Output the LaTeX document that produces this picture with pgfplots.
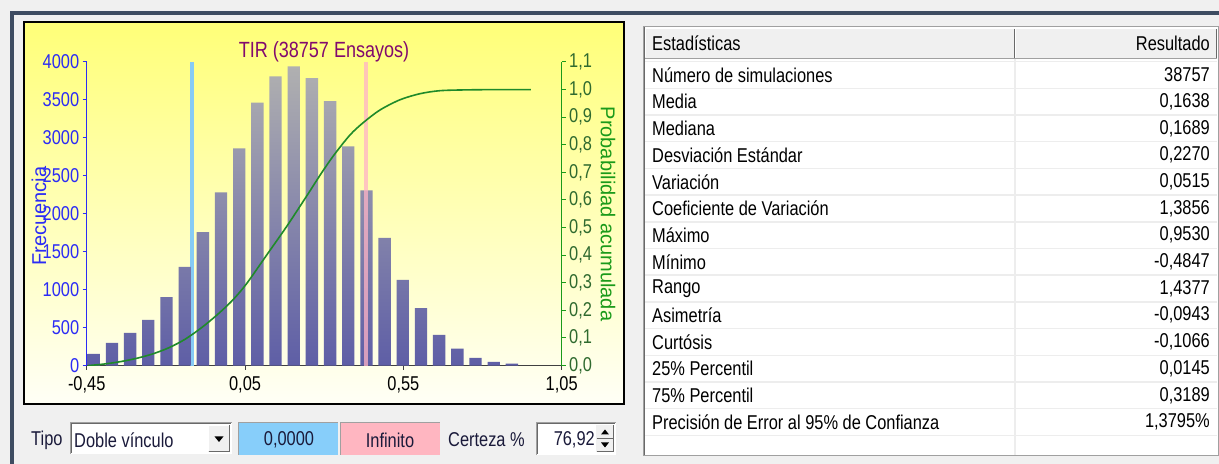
\documentclass[border=0pt]{standalone}
\usepackage{fontspec}
\setmainfont[FakeStretch=0.82]{Liberation Sans}
\newfontfamily\widefont{Liberation Sans}
\usepackage{pgfplots}
\pgfplotsset{compat=1.18}

\definecolor{slate}{HTML}{3E4C61}
\definecolor{winbg}{HTML}{F0F0F0}
\definecolor{ytop}{HTML}{FFFF78}
\definecolor{ybot}{HTML}{FFFFF6}
\definecolor{bartop}{HTML}{B0B0B0}
\definecolor{barbot}{HTML}{5E5EA6}
\definecolor{freqblue}{HTML}{2B2BF5}
\definecolor{probgreen}{HTML}{1A9A1A}
\definecolor{ticgreen}{HTML}{2F6A2F}
\definecolor{curvegreen}{HTML}{1F8A2A}
\definecolor{lowline}{HTML}{86CBF5}
\definecolor{highline}{HTML}{FFB3C6}
\definecolor{titlepurple}{HTML}{820A6E}
\definecolor{boxblue}{HTML}{87CEFA}
\definecolor{boxpink}{HTML}{FFB6C1}
\definecolor{sepgray}{HTML}{EDEDED}
\definecolor{edgegray}{HTML}{A0A0A0}
\definecolor{darkedge}{HTML}{696969}
\definecolor{uitext}{HTML}{1A1A3A}

\newcommand\fs{\fontsize{20bp}{24bp}\selectfont}

\begin{document}
\begin{tikzpicture}
\useasboundingbox (0,0) rectangle (1219bp,464bp);

% window background and chart frame (px coordinates, y down)
\begin{scope}[x=1bp,y=-1bp,shift={(0,464bp)}]
\fill[winbg] (0,0) rectangle (1219,464);
\fill[slate] (10,11) rectangle (1219,15);
\fill[slate] (10,11) rectangle (14,464);
\shade[top color=ytop, bottom color=ybot] (24,22) rectangle (624,404);
\draw[black, line width=1.5bp] (24,22) rectangle (624,404);
\end{scope}

% histogram, left axis
\begin{axis}[
    at={(86.7bp,98.4bp)}, anchor=south west,
    width=475bp, height=303.6bp, scale only axis,
    xmin=-0.45, xmax=1.05, ymin=0, ymax=4000,
    axis y line*=left, axis x line*=bottom,
    axis line style={-},
    x axis line style={black!75, line width=1bp},
    y axis line style={freqblue, line width=1bp},
    xtick={-0.45,0.05,0.55,1.05},
    ytick={0,500,1000,1500,2000,2500,3000,3500,4000},
    tick align=outside, major tick length=4bp,
    xtick style={black!75, line width=1bp},
    ytick style={freqblue, line width=1bp},
    every tick label/.append style={font=\fs},
    /pgf/number format/assume math mode=true,
    xticklabel style={yshift=-3bp, /pgf/number format/.cd, fixed, fixed zerofill, precision=2, use comma},
    yticklabel style={text=freqblue, /pgf/number format/1000 sep={}},
    clip=false,
]
\addplot[lowline, line width=4bp] coordinates {(-0.117,0) (-0.117,4000)};
\addplot[ybar, bar width=0.039, draw=none, top color=bartop, bottom color=barbot] coordinates {
(-0.4276,154) (-0.3702,299) (-0.3128,431) (-0.2554,602) (-0.1980,901) (-0.1406,1301)
(-0.0832,1758) (-0.0258,2281) (0.0316,2862) (0.0890,3464) (0.1464,3811) (0.2038,3943)
(0.2612,3789) (0.3186,3486) (0.3760,2888) (0.4334,2308) (0.4908,1684) (0.5482,1130)
(0.6056,756) (0.6630,404) (0.7204,224) (0.7778,101) (0.8352,48) (0.8926,26)};
\addplot[highline, line width=4bp, opacity=0.75] coordinates {(0.432,0) (0.432,4000)};
\end{axis}

% cumulative probability, right axis
\begin{axis}[
    at={(86.7bp,98.4bp)}, anchor=south west,
    width=475bp, height=303.6bp, scale only axis,
    xmin=-0.45, xmax=1.05, ymin=0, ymax=1.1,
    axis y line*=right, axis x line=none,
    axis line style={-},
    y axis line style={probgreen, line width=1bp},
    ytick={0,0.1,0.2,0.3,0.4,0.5,0.6,0.7,0.8,0.9,1.0,1.1},
    tick align=outside, major tick length=4bp,
    ytick style={probgreen, line width=1bp},
    every tick label/.append style={font=\fs},
    /pgf/number format/assume math mode=true,
    yticklabel style={text=ticgreen, /pgf/number format/.cd, fixed, fixed zerofill, precision=1, use comma},
]
\addplot[curvegreen, line width=1.6bp, smooth, tension=0.5] coordinates {
(-0.446,0.000) (-0.400,0.005) (-0.345,0.014) (-0.290,0.027) (-0.240,0.043) (-0.190,0.065)
(-0.140,0.095) (-0.090,0.135) (-0.040,0.182) (0.010,0.236) (0.055,0.297) (0.118,0.400)
(0.182,0.505) (0.245,0.615) (0.287,0.690) (0.329,0.760) (0.381,0.835) (0.423,0.880)
(0.476,0.926) (0.539,0.963) (0.602,0.985) (0.665,0.996) (0.750,0.999) (0.855,1.000)
(0.953,1.000)};
\end{axis}

\begin{scope}[x=1bp,y=-1bp,shift={(0,464bp)}]
% chart texts
\node[font=\fontsize{22bp}{26bp}\selectfont, text=titlepurple] at (324,52) {TIR (38757 Ensayos)};
\node[font=\widefont\fontsize{20bp}{24bp}\selectfont, text=freqblue, rotate=90] at (39,216) {Frecuencia};
\node[font=\widefont\fontsize{20bp}{24bp}\selectfont, text=probgreen, rotate=-90] at (608,214) {Probabilidad acumulada};

% controls under the chart
\node[anchor=west, font=\fs, text=uitext, inner sep=0] at (31,440) {Tipo};
\fill[white] (70,422) rectangle (232,454);
\draw[edgegray] (70.5,454)--(70.5,422.5)--(232,422.5);
\draw[darkedge] (71.5,453)--(71.5,423.5)--(231,423.5);
\fill[winbg] (208,425) rectangle (230,452);
\draw[white] (208.5,451.5)--(208.5,425.5)--(229.5,425.5);
\draw[darkedge] (208.5,451.5)--(229.5,451.5)--(229.5,425.5);
\fill[black] (214.5,436.5)--(223.5,436.5)--(219,442)--cycle;
\node[anchor=west, font=\fs, text=uitext, inner sep=0] at (74,440) {Doble vínculo};

\fill[boxblue] (238,422) rectangle (338,455);
\draw[edgegray] (238.5,455)--(238.5,422.5)--(338,422.5);
\node[font=\fs, text=uitext] at (289,440) {0,0000};
\fill[boxpink] (340,422) rectangle (440,455);
\draw[edgegray] (340.5,455)--(340.5,422.5)--(440,422.5);
\node[font=\fs, text=uitext] at (390,440) {Infinito};

\node[anchor=west, font=\fs, text=uitext, inner sep=0] at (448,440) {Certeza \%};
\fill[white] (536,422) rectangle (616,455);
\draw[edgegray] (536.5,455)--(536.5,422.5)--(616,422.5);
\draw[darkedge] (537.5,454)--(537.5,423.5)--(615,423.5);
\node[anchor=east, font=\fs, text=uitext, inner sep=0] at (595,440) {76,92};
\fill[winbg] (596,425) rectangle (614,452);
\draw[darkedge] (596.5,438.5)--(613.5,438.5);
\draw[darkedge] (596.5,451.5)--(613.5,451.5)--(613.5,425.5);
\fill[black] (601,434.5)--(609,434.5)--(605,429.5)--cycle;
\fill[black] (601,442.5)--(609,442.5)--(605,447.5)--cycle;

% statistics table
\fill[white] (643,26) rectangle (1219,456);
\draw[edgegray] (643.5,26.5) rectangle (1218.5,455.5);
\draw[darkedge] (644.5,27.5)--(644.5,455);
\fill[winbg] (645,28) rectangle (1217,58);
\draw[white] (645.5,57)--(645.5,28.5)--(1217,28.5);
\draw[edgegray] (645,58.5)--(1217,58.5);
\draw[darkedge] (1014.5,29)--(1014.5,58);
\draw[white] (1015.5,29)--(1015.5,58);
\draw[darkedge] (1216.5,29)--(1216.5,58);
\node[anchor=west, font=\fs, inner sep=0] at (652,43) {Estadísticas};
\node[anchor=east, font=\fs, inner sep=0] at (1210,43) {Resultado};
\foreach \i in {0,...,14} {
  \draw[sepgray, line width=1.5bp] (645,{61.6+26.7*\i}) -- (1217,{61.6+26.7*\i});
}
\draw[sepgray, line width=1.5bp] (1015,59) -- (1015,455);
\foreach \lab/\val [count=\i from 0] in {
  Número de simulaciones/38757,
  Media/{0,1638},
  Mediana/{0,1689},
  Desviación Estándar/{0,2270},
  Variación/{0,0515},
  Coeficiente de Variación/{1,3856},
  Máximo/{0,9530},
  Mínimo/{-0,4847},
  Rango/{1,4377},
  Asimetría/{-0,0943},
  Curtósis/{-0,1066},
  25\% Percentil/{0,0145},
  75\% Percentil/{0,3189},
  Precisión de Error al 95\% de Confianza/{1,3795\%}} {
  \node[anchor=west, font=\fs, inner sep=0] at (652,{75+26.7*\i}) {\lab};
  \node[anchor=east, font=\fs, inner sep=0] at (1210,{75+26.7*\i}) {\val};
}
\end{scope}
\end{tikzpicture}
\end{document}
